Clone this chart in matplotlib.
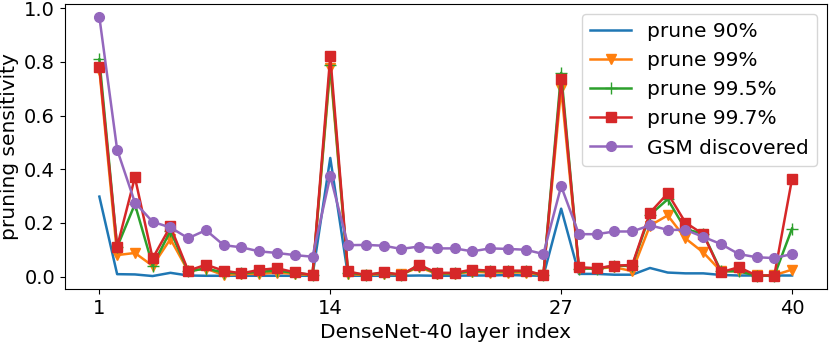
import numpy as np
import matplotlib
matplotlib.use("Agg")
import matplotlib.pyplot as plt

layers = np.arange(1, 41)

prune_90 = [0.298, 0.009, 0.008, 0.002, 0.014, 0.004, 0.003, 0.003, 0.003, 0.003,
            0.003, 0.003, 0.003, 0.442, 0.003, 0.003, 0.003, 0.003, 0.004, 0.003,
            0.003, 0.004, 0.004, 0.006, 0.004, 0.003, 0.253, 0.010, 0.010, 0.007,
            0.007, 0.032, 0.015, 0.012, 0.012, 0.006, 0.004, 0.004, 0.004, 0.004]

prune_99 = [0.770, 0.080, 0.088, 0.040, 0.140, 0.020, 0.030, 0.005, 0.010, 0.010,
            0.015, 0.010, 0.005, 0.776, 0.010, 0.005, 0.010, 0.008, 0.035, 0.010,
            0.010, 0.018, 0.015, 0.015, 0.015, 0.005, 0.700, 0.030, 0.030, 0.035,
            0.020, 0.190, 0.228, 0.142, 0.090, 0.020, 0.020, 0.005, 0.005, 0.026]

prune_99_5 = [0.809, 0.110, 0.270, 0.041, 0.170, 0.020, 0.030, 0.015, 0.012, 0.018,
              0.022, 0.014, 0.006, 0.790, 0.015, 0.006, 0.014, 0.007, 0.040, 0.012,
              0.012, 0.022, 0.020, 0.020, 0.020, 0.006, 0.759, 0.030, 0.030, 0.040,
              0.040, 0.230, 0.288, 0.176, 0.160, 0.020, 0.020, 0.003, 0.003, 0.179]

prune_99_7 = [0.781, 0.111, 0.370, 0.068, 0.187, 0.022, 0.044, 0.022, 0.012, 0.025,
              0.031, 0.016, 0.006, 0.821, 0.019, 0.006, 0.016, 0.007, 0.044, 0.014,
              0.014, 0.026, 0.022, 0.022, 0.022, 0.006, 0.735, 0.035, 0.031, 0.041,
              0.043, 0.238, 0.310, 0.201, 0.158, 0.016, 0.035, 0.004, 0.004, 0.364]

gsm = [0.967, 0.473, 0.276, 0.204, 0.183, 0.143, 0.173, 0.117, 0.109, 0.094,
       0.088, 0.080, 0.074, 0.374, 0.117, 0.118, 0.115, 0.103, 0.112, 0.105,
       0.105, 0.094, 0.105, 0.103, 0.100, 0.084, 0.337, 0.158, 0.158, 0.168,
       0.168, 0.191, 0.174, 0.174, 0.148, 0.121, 0.084, 0.072, 0.069, 0.084]

plt.rcParams["font.size"] = 14

fig = plt.figure(figsize=(8.3, 3.42), dpi=100)
ax = fig.add_axes([0.078, 0.155, 0.918, 0.833])
ax.plot(layers, prune_90, lw=1.8, label="prune 90%")
ax.plot(layers, prune_99, lw=1.8, marker="v", ms=7, label="prune 99%")
ax.plot(layers, prune_99_5, lw=1.8, marker="+", ms=8, label="prune 99.5%")
ax.plot(layers, prune_99_7, lw=1.8, marker="s", ms=7, label="prune 99.7%")
ax.plot(layers, gsm, lw=1.8, marker="o", ms=7, label="GSM discovered")
ax.set_xticks([1, 14, 27, 40])
ax.set_xlabel("DenseNet-40 layer index", fontsize=14.5, labelpad=4)
ax.set_ylabel("pruning sensitivity", fontsize=14.5)
ax.legend(loc="upper right", fontsize=14.5)
fig.savefig("out.png")
